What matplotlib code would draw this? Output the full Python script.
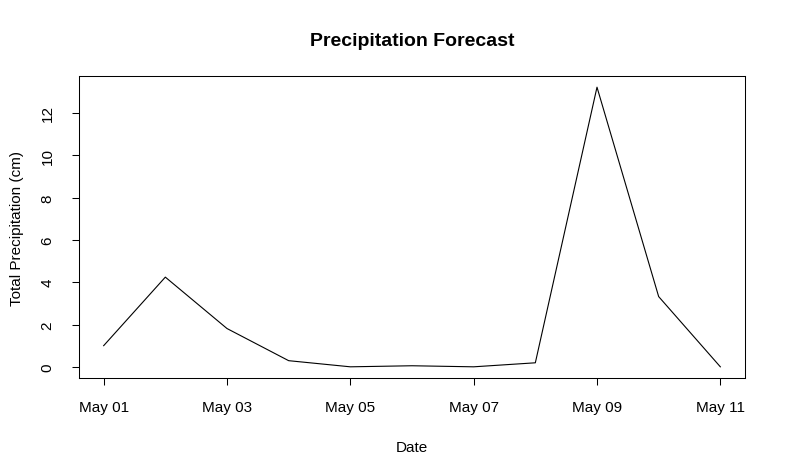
import matplotlib
matplotlib.use("Agg")
import matplotlib.pyplot as plt
import matplotlib.dates as mdates
import pandas as pd

# daily totals
dates = ["2023-05-01", "2023-05-02", "2023-05-03", "2023-05-04", "2023-05-05", "2023-05-06",
         "2023-05-07", "2023-05-08", "2023-05-09", "2023-05-10", "2023-05-11"]
precip_cm = [1.0, 4.24, 1.81, 0.29, 0.0, 0.05, 0.0, 0.19, 13.22, 3.32, 0.0]
tick_dates = ["2023-05-01", "2023-05-03", "2023-05-05", "2023-05-07", "2023-05-09", "2023-05-11"]
y_ticks = [0, 2, 4, 6, 8, 10, 12]

plt.rcParams['font.family'] = ['Liberation Sans', 'DejaVu Sans']

x = pd.to_datetime(dates)
fig = plt.figure(figsize=(7.86, 4.77), dpi=100)
fig.subplots_adjust(left=79/786, right=745/786, top=1-77/477, bottom=1-379/477)
ax = fig.add_subplot(111)

ax.plot(x, precip_cm, color='black', linewidth=0.8)

# R-style 4% padding
xnum = mdates.date2num(x)
xr = xnum.max() - xnum.min()
ax.set_xlim(xnum.min() - 0.04*xr, xnum.max() + 0.04*xr)
yr = max(precip_cm) - min(precip_cm)
ax.set_ylim(min(precip_cm) - 0.04*yr, max(precip_cm) + 0.04*yr)

ax.set_xticks(mdates.date2num(pd.to_datetime(tick_dates)))
ax.xaxis.set_major_formatter(mdates.DateFormatter('%b %d'))
ax.set_yticks(y_ticks)
for lbl in ax.get_yticklabels():
    lbl.set_rotation(90)
    lbl.set_va('center')

ax.tick_params(axis='both', direction='out', length=5.2, width=0.75, labelsize=11, colors='black')
ax.tick_params(axis='x', pad=10.5)
ax.tick_params(axis='y', pad=12.5)
for s in ax.spines.values():
    s.set_linewidth(0.75)

ax.set_title("Precipitation Forecast", fontsize=14, fontweight='bold', pad=22)
ax.set_xlabel("Date", fontsize=11, labelpad=19)
ax.set_ylabel("Total Precipitation (cm)", fontsize=11, labelpad=12)

fig.savefig("out.png", dpi=100)
